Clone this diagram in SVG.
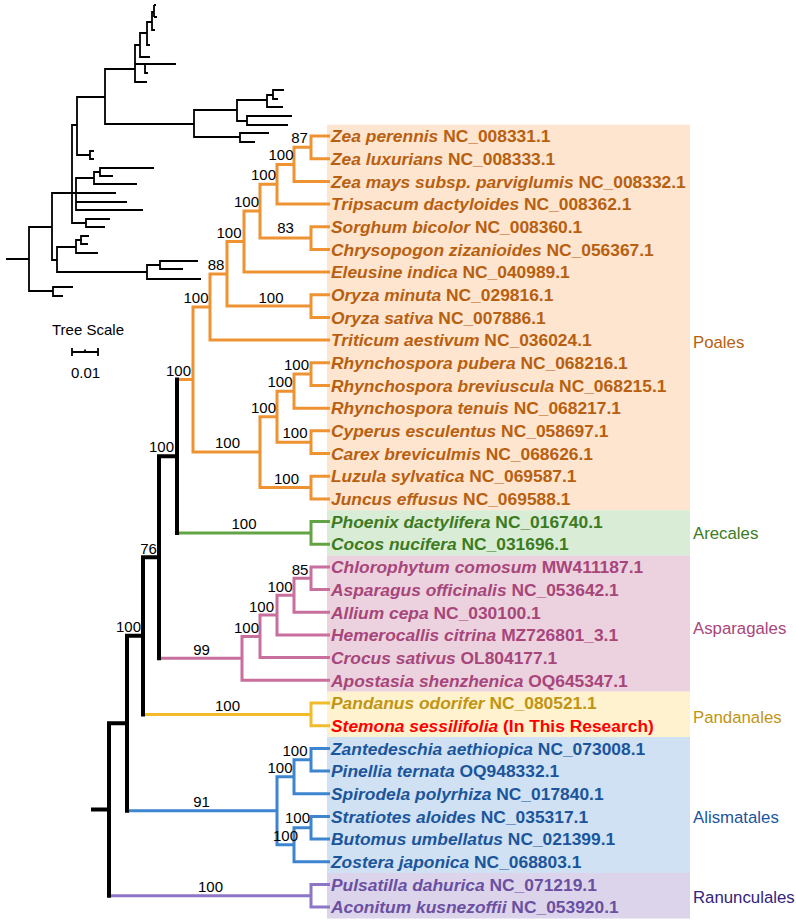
<svg xmlns="http://www.w3.org/2000/svg" width="796" height="921" viewBox="0 0 796 921">
<style>
.leaf{font-family:"Liberation Sans",Arial,sans-serif;font-size:17.4px;font-weight:bold}
.sp{font-style:italic}
.bs{font-family:"Liberation Sans",Arial,sans-serif;font-size:15px;text-anchor:middle;fill:#000}
.cl{font-family:"Liberation Sans",Arial,sans-serif;font-size:16.8px}
.br{fill:none;stroke-width:3;stroke-linecap:butt;stroke-linejoin:miter}
.bk{fill:none;stroke:#000;stroke-width:4;stroke-linecap:square}
.ins{fill:none;stroke:#000;stroke-width:1.8;stroke-linecap:butt;stroke-linejoin:miter}
.po{stroke:#ef9232}.ar{stroke:#62a443}.as{stroke:#c86f9d}.pa{stroke:#f1bb2b}.al{stroke:#3d85ce}.ra{stroke:#8e76c6}
.tpo{fill:#b8600f}.tar{fill:#3c7b1e}.tas{fill:#a8457a}.tpa{fill:#bf9512}.tal{fill:#1b559c}.tra{fill:#6a4fa3}
</style>
<rect width="796" height="921" fill="#fff"/>
<!-- clade backgrounds and labels -->
<g id="clade-poales"><rect x="327" y="124.7" width="363" height="385.5" fill="#fde5d0"/><text class="cl" x="693" y="348" fill="#b8600f">Poales</text></g>
<g id="clade-arecales"><rect x="327" y="510.2" width="363" height="45.4" fill="#d9ecd5"/><text class="cl" x="693" y="539" fill="#3c7b1e">Arecales</text></g>
<g id="clade-asparagales"><rect x="327" y="555.6" width="363" height="136.1" fill="#ebd2de"/><text class="cl" x="693" y="634" fill="#a8457a">Asparagales</text></g>
<g id="clade-pandanales"><rect x="327" y="691.7" width="363" height="45.3" fill="#fff2cf"/><text class="cl" x="693" y="723" fill="#bf9512">Pandanales</text></g>
<g id="clade-alismatales"><rect x="327" y="737" width="363" height="136" fill="#cfe1f2"/><text class="cl" x="693" y="823" fill="#1b559c">Alismatales</text></g>
<g id="clade-ranunculales"><rect x="327" y="873" width="363" height="45.5" fill="#dcd4ea"/><text class="cl" x="693" y="903" fill="#33237a">Ranunculales</text></g>

<!-- inset overview tree -->
<g id="inset-tree">
<path class="ins" d="M135,69 H105 V124 H194 M140,45 H135 V82 H147 M135,64 H145 M147,33 H140 V57 H150 M152,22 H147 V45 H150 M154,12 H152 V30 H155 M154,5 V17 M154,5 H156 M154,17 H157 M176,64 H145 V73 H148 M237,110 H194 V137 H240 M267,100 H237 V121 H247 M273,95 H267 V107 H283 M284,90 H273 V99 H278 M292,116 H247 V125 H288 M269,133 H240 V142 H255 M105,97 H77 V155 H90 M94,151 H90 V159 H94 M77,125 H72 V223 H86 M110,219 H86 V227 H105 M76,193 H52 V260 H57 M94,178 H76 V210 H143 M76,193 H116 M76,202 H127 M100,172 H94 V184 H137 M154,168 H100 V176 H113 M76,247 H57 V272 H147 M81,240 H76 V253 H98 M89,236 H81 V244 H88 M160,265 H147 V279 H201 M198,261 H160 V269 H183 M52,227 H29 V291 H53 M6,259 H29 M73,287 H53 V296 H63"/>
<text x="52" y="335" font-family="Liberation Sans, Arial, sans-serif" font-size="15">Tree Scale</text>
<path class="ins" d="M72,352 H98 M72,348 V356 M98,348 V356 M85,349.5 V352"/>
<text x="85.5" y="378" font-family="Liberation Sans, Arial, sans-serif" font-size="15" text-anchor="middle">0.01</text>
</g>

<!-- connectors -->
<g id="connectors">
<path class="br po" d="M330,136 H311 V158.7 H330 M311,147.35 H294 V181.4 H330 M294,164.4 H277 V204 H330 M330,226.7 H311 V249.4 H330 M277,184.2 H260 V238 H311 M260,211.1 H244 V272.1 H330 M330,294.8 H311 V317.4 H330 M244,241.6 H227 V306.1 H311 M227,273.9 H210 V340.1 H330 M330,362.8 H311 V385.5 H330 M311,374.1 H294 V408.2 H330 M330,430.8 H311 V453.5 H330 M294,391.2 H277 V442.2 H311 M330,476.2 H311 V498.9 H330 M277,416.7 H260 V487.5 H311 M210,307 H193 V452.1 H260 M177,379.5 H193"/>
<path class="br ar" d="M330,521.6 H311 V544.2 H330 M177,532.9 H311"/>
<path class="br as" d="M330,566.9 H311 V589.6 H330 M311,578.3 H294 V612.3 H330 M294,595.3 H277 V635 H330 M277,615.1 H260 V657.6 H330 M260,636.4 H242 V680.3 H330 M159,658.3 H242"/>
<path class="br pa" d="M330,703 H311 V725.7 H330 M143,714.4 H311"/>
<path class="br al" d="M330,748.4 H311 V771 H330 M311,759.7 H294 V793.7 H330 M330,816.4 H311 V839.1 H330 M311,827.7 H294 V861.8 H330 M294,776.7 H277 V844.8 H294 M127,810.7 H277"/>
<path class="br ra" d="M330,884.4 H311 V907.1 H330 M109,895.8 H311"/>
<path class="bk" d="M177,379.5 V532.9 M177,456.2 H159 M159,456.2 V658.3 M159,557.3 H143 M143,557.3 V714.4 M143,635.8 H127 M127,635.8 V810.7 M127,723.3 H109 M109,723.3 V895.8 M109,809.5 H93"/>
</g>

<!-- bootstrap values -->
<g id="support">
<text class="bs" x="299.5" y="143.3">87</text>
<text class="bs" x="281" y="160.3">100</text>
<text class="bs" x="263.5" y="180.3">100</text>
<text class="bs" x="246.5" y="207.3">100</text>
<text class="bs" x="285.5" y="233.3">83</text>
<text class="bs" x="229" y="238.3">100</text>
<text class="bs" x="216" y="270.3">88</text>
<text class="bs" x="271" y="303.3">100</text>
<text class="bs" x="196" y="303.3">100</text>
<text class="bs" x="296.5" y="370.3">100</text>
<text class="bs" x="280" y="387.3">100</text>
<text class="bs" x="263.5" y="413.3">100</text>
<text class="bs" x="295" y="438.3">100</text>
<text class="bs" x="286.5" y="484.3">100</text>
<text class="bs" x="227.5" y="448.3">100</text>
<text class="bs" x="178.5" y="376.3">100</text>
<text class="bs" x="244" y="529.3">100</text>
<text class="bs" x="161.5" y="452.3">100</text>
<text class="bs" x="148.5" y="554.3">76</text>
<text class="bs" x="201.5" y="655.3">99</text>
<text class="bs" x="246.5" y="633.3">100</text>
<text class="bs" x="261.5" y="612.3">100</text>
<text class="bs" x="280" y="592.3">100</text>
<text class="bs" x="300" y="575.3">85</text>
<text class="bs" x="128.5" y="632.3">100</text>
<text class="bs" x="227.5" y="711.3">100</text>
<text class="bs" x="201.5" y="807.3">91</text>
<text class="bs" x="280" y="773.3">100</text>
<text class="bs" x="295" y="756.3">100</text>
<text class="bs" x="285.5" y="841.3">100</text>
<text class="bs" x="297.5" y="823.3">100</text>
<text class="bs" x="210.5" y="892.3">100</text>
</g>

<!-- leaves -->
<g id="leaf-00"><text class="leaf tpo" x="331" y="142.2"><tspan class="sp">Zea perennis</tspan> NC_008331.1</text></g>
<g id="leaf-01"><text class="leaf tpo" x="331" y="164.9"><tspan class="sp">Zea luxurians</tspan> NC_008333.1</text></g>
<g id="leaf-02"><text class="leaf tpo" x="331" y="187.6"><tspan class="sp">Zea mays subsp. parviglumis</tspan> NC_008332.1</text></g>
<g id="leaf-03"><text class="leaf tpo" x="331" y="210.2"><tspan class="sp">Tripsacum dactyloides</tspan> NC_008362.1</text></g>
<g id="leaf-04"><text class="leaf tpo" x="331" y="232.9"><tspan class="sp">Sorghum bicolor</tspan> NC_008360.1</text></g>
<g id="leaf-05"><text class="leaf tpo" x="331" y="255.6"><tspan class="sp">Chrysopogon zizanioides</tspan> NC_056367.1</text></g>
<g id="leaf-06"><text class="leaf tpo" x="331" y="278.3"><tspan class="sp">Eleusine indica</tspan> NC_040989.1</text></g>
<g id="leaf-07"><text class="leaf tpo" x="331" y="301"><tspan class="sp">Oryza minuta</tspan> NC_029816.1</text></g>
<g id="leaf-08"><text class="leaf tpo" x="331" y="323.6"><tspan class="sp">Oryza sativa</tspan> NC_007886.1</text></g>
<g id="leaf-09"><text class="leaf tpo" x="331" y="346.3"><tspan class="sp">Triticum aestivum</tspan> NC_036024.1</text></g>
<g id="leaf-10"><text class="leaf tpo" x="331" y="369"><tspan class="sp">Rhynchospora pubera</tspan> NC_068216.1</text></g>
<g id="leaf-11"><text class="leaf tpo" x="331" y="391.7"><tspan class="sp">Rhynchospora breviuscula</tspan> NC_068215.1</text></g>
<g id="leaf-12"><text class="leaf tpo" x="331" y="414.4"><tspan class="sp">Rhynchospora tenuis</tspan> NC_068217.1</text></g>
<g id="leaf-13"><text class="leaf tpo" x="331" y="437"><tspan class="sp">Cyperus esculentus</tspan> NC_058697.1</text></g>
<g id="leaf-14"><text class="leaf tpo" x="331" y="459.7"><tspan class="sp">Carex breviculmis</tspan> NC_068626.1</text></g>
<g id="leaf-15"><text class="leaf tpo" x="331" y="482.4"><tspan class="sp">Luzula sylvatica</tspan> NC_069587.1</text></g>
<g id="leaf-16"><text class="leaf tpo" x="331" y="505.1"><tspan class="sp">Juncus effusus</tspan> NC_069588.1</text></g>
<g id="leaf-17"><text class="leaf tar" x="331" y="527.8"><tspan class="sp">Phoenix dactylifera</tspan> NC_016740.1</text></g>
<g id="leaf-18"><text class="leaf tar" x="331" y="550.4"><tspan class="sp">Cocos nucifera</tspan> NC_031696.1</text></g>
<g id="leaf-19"><text class="leaf tas" x="331" y="573.1"><tspan class="sp">Chlorophytum comosum</tspan> MW411187.1</text></g>
<g id="leaf-20"><text class="leaf tas" x="331" y="595.8"><tspan class="sp">Asparagus officinalis</tspan> NC_053642.1</text></g>
<g id="leaf-21"><text class="leaf tas" x="331" y="618.5"><tspan class="sp">Allium cepa</tspan> NC_030100.1</text></g>
<g id="leaf-22"><text class="leaf tas" x="331" y="641.2"><tspan class="sp">Hemerocallis citrina</tspan> MZ726801_3.1</text></g>
<g id="leaf-23"><text class="leaf tas" x="331" y="663.8"><tspan class="sp">Crocus sativus</tspan> OL804177.1</text></g>
<g id="leaf-24"><text class="leaf tas" x="331" y="686.5"><tspan class="sp">Apostasia shenzhenica</tspan> OQ645347.1</text></g>
<g id="leaf-25"><text class="leaf tpa" x="331" y="709.2"><tspan class="sp">Pandanus odorifer</tspan> NC_080521.1</text></g>
<g id="leaf-26"><text class="leaf" x="331" y="731.9" fill="#ff0000"><tspan class="sp">Stemona sessilifolia</tspan> (In This Research)</text></g>
<g id="leaf-27"><text class="leaf tal" x="331" y="754.6"><tspan class="sp">Zantedeschia aethiopica</tspan> NC_073008.1</text></g>
<g id="leaf-28"><text class="leaf tal" x="331" y="777.2"><tspan class="sp">Pinellia ternata</tspan> OQ948332.1</text></g>
<g id="leaf-29"><text class="leaf tal" x="331" y="799.9"><tspan class="sp">Spirodela polyrhiza</tspan> NC_017840.1</text></g>
<g id="leaf-30"><text class="leaf tal" x="331" y="822.6"><tspan class="sp">Stratiotes aloides</tspan> NC_035317.1</text></g>
<g id="leaf-31"><text class="leaf tal" x="331" y="845.3"><tspan class="sp">Butomus umbellatus</tspan> NC_021399.1</text></g>
<g id="leaf-32"><text class="leaf tal" x="331" y="868"><tspan class="sp">Zostera japonica</tspan> NC_068803.1</text></g>
<g id="leaf-33"><text class="leaf tra" x="331" y="890.6"><tspan class="sp">Pulsatilla dahurica</tspan> NC_071219.1</text></g>
<g id="leaf-34"><text class="leaf tra" x="331" y="913.3"><tspan class="sp">Aconitum kusnezoffii</tspan> NC_053920.1</text></g>
</svg>
